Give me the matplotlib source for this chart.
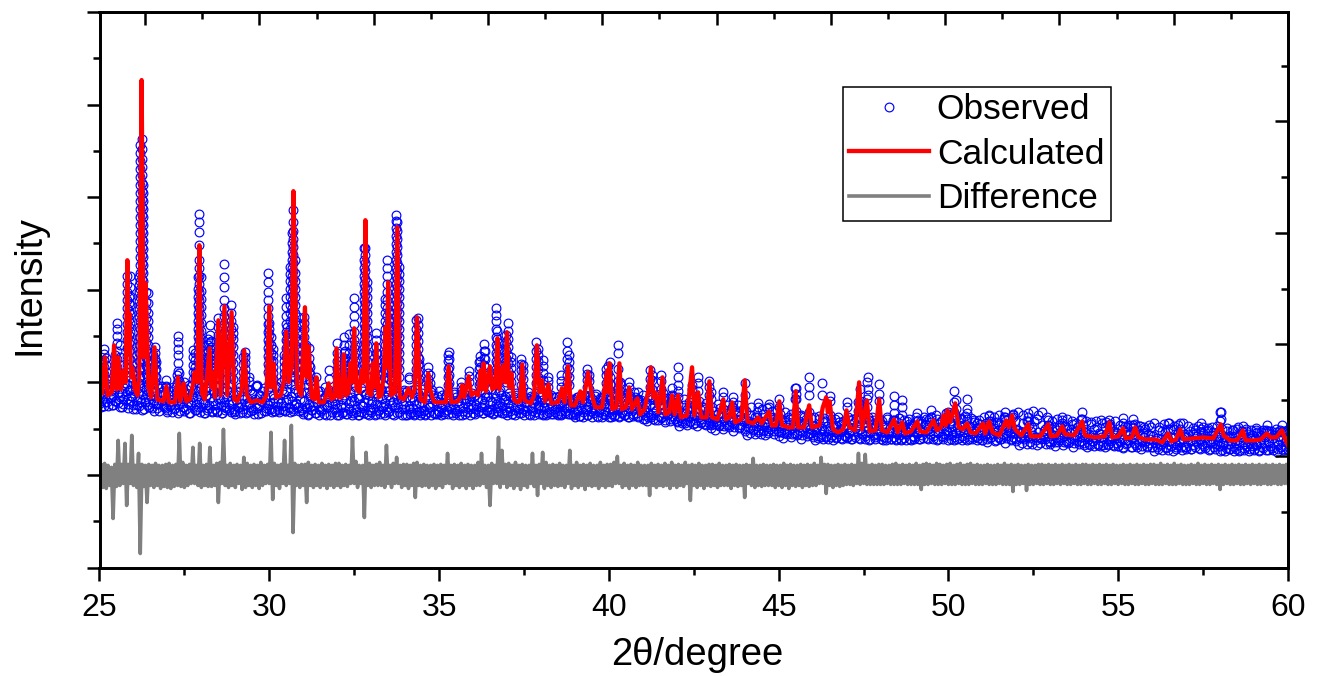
"""Rietveld refinement plot: observed, calculated and difference patterns."""

import matplotlib
matplotlib.use('Agg')
import matplotlib.pyplot as plt
import numpy as np
from matplotlib.ticker import MultipleLocator, NullFormatter

plt.rcParams['font.family'] = ['Liberation Sans', 'DejaVu Sans']

# values; intensity is in arbitrary units
calc_x = [
    25.00, 25.08, 25.16, 25.24, 25.36, 25.43, 25.50, 25.56, 25.63, 25.72,
    25.77, 25.82, 25.85, 25.88, 25.93, 25.98, 26.04, 26.12, 26.17, 26.24,
    26.30, 26.36, 26.44, 26.52, 26.62, 26.70, 26.88, 26.97, 27.05, 27.22,
    27.31, 27.38, 27.48, 27.56, 27.66, 27.74, 27.80, 27.88, 27.94, 28.01,
    28.10, 28.24, 28.29, 28.33, 28.40, 28.50, 28.57, 28.68, 28.76, 28.89,
    28.97, 29.06, 29.18, 29.26, 29.34, 29.46, 29.63, 29.80, 29.92, 30.00,
    30.06, 30.12, 30.20, 30.34, 30.42, 30.50, 30.57, 30.66, 30.71, 30.75,
    30.82, 30.94, 31.05, 31.10, 31.16, 31.24, 31.33, 31.39, 31.46, 31.60,
    31.68, 31.75, 31.82, 31.92, 31.98, 32.05, 32.12, 32.19, 32.26, 32.34,
    32.39, 32.44, 32.50, 32.57, 32.66, 32.71, 32.77, 32.83, 32.90, 33.00,
    33.05, 33.10, 33.15, 33.22, 33.30, 33.38, 33.42, 33.46, 33.50, 33.58,
    33.70, 33.77, 33.84, 33.96, 34.10, 34.20, 34.28, 34.35, 34.45, 34.58,
    34.68, 34.74, 34.84, 34.92, 35.20, 35.28, 35.36, 35.55, 35.64, 35.68,
    35.74, 35.87, 35.95, 36.05, 36.15, 36.22, 36.26, 36.31, 36.38, 36.50,
    36.57, 36.66, 36.72, 36.78, 36.90, 36.95, 37.00, 37.06, 37.13, 37.20,
    37.30, 37.38, 37.45, 37.52, 37.70, 37.80, 37.88, 37.96, 38.03, 38.12,
    38.22, 38.30, 38.50, 38.62, 38.70, 38.80, 38.88, 39.00, 39.16, 39.24,
    39.39, 39.50, 39.60, 39.80, 39.95, 39.98, 40.02, 40.10, 40.22, 40.31,
    40.38, 40.50, 40.60, 40.68, 40.84, 40.92, 41.05, 41.17, 41.24, 41.30,
    41.37, 41.46, 41.58, 41.66, 41.78, 41.86, 41.94, 42.04, 42.12, 42.30,
    42.45, 42.52, 42.63, 42.72, 42.88, 42.96, 43.04, 43.20, 43.37, 43.44,
    43.55, 43.63, 43.72, 43.90, 44.00, 44.08, 44.25, 44.40, 44.50, 44.72,
    44.80, 44.92, 45.02, 45.10, 45.30, 45.42, 45.50, 45.58, 45.75, 45.90,
    45.98, 46.20, 46.30, 46.40, 46.45, 46.50, 46.60, 46.75, 46.90, 47.00,
    47.08, 47.25, 47.37, 47.45, 47.60, 47.68, 47.85, 47.96, 48.04, 48.20,
    48.40, 48.50, 48.64, 48.72, 48.90, 49.08, 49.16, 49.35, 49.56, 49.66,
    49.78, 49.85, 49.92, 49.97, 50.05, 50.20, 50.30, 50.42, 50.55, 50.65,
    50.80, 51.02, 51.08, 51.20, 51.30, 51.50, 51.70, 51.78, 51.87, 51.96,
    52.15, 52.35, 52.43, 52.70, 52.94, 53.02, 53.20, 53.35, 53.44, 53.70,
    53.94, 54.02, 54.30, 54.60, 54.74, 54.82, 55.00, 55.14, 55.22, 55.40,
    55.50, 55.60, 55.80, 56.10, 56.30, 56.47, 56.56, 56.70, 56.83, 56.92,
    57.20, 57.50, 57.80, 58.02, 58.10, 58.30, 58.50, 58.67, 58.75, 59.00,
    59.20, 59.38, 59.48, 59.65, 59.82, 59.92, 60.00,
]
calc_y = [
    176, 174, 210, 172, 175, 222, 178, 210, 178, 197,
    185, 307, 230, 254, 190, 199, 178, 172, 190, 487,
    210, 284, 180, 170, 220, 168, 166, 181, 165, 165,
    190, 166, 184, 166, 168, 180, 195, 185, 322, 175,
    168, 219, 180, 195, 170, 247, 172, 261, 172, 255,
    168, 166, 176, 217, 172, 165, 167, 165, 172, 261,
    180, 204, 170, 172, 185, 236, 185, 200, 376, 310,
    180, 172, 260, 190, 221, 170, 168, 190, 165, 165,
    172, 184, 168, 170, 219, 170, 170, 213, 172, 175,
    204, 185, 239, 178, 175, 197, 185, 347, 175, 172,
    204, 180, 224, 170, 172, 195, 240, 200, 285, 172,
    175, 340, 170, 168, 179, 170, 178, 250, 168, 165,
    194, 178, 166, 165, 165, 201, 165, 166, 172, 182,
    170, 191, 172, 175, 172, 197, 178, 204, 176, 201,
    178, 180, 229, 178, 202, 185, 235, 180, 194, 168,
    165, 166, 203, 167, 164, 172, 222, 175, 187, 166,
    183, 164, 165, 179, 165, 201, 162, 162, 176, 165,
    195, 172, 160, 160, 197, 175, 204, 158, 160, 204,
    158, 160, 180, 158, 169, 153, 158, 178, 200, 170,
    175, 155, 190, 153, 155, 172, 153, 172, 150, 152,
    200, 152, 175, 150, 150, 186, 150, 148, 168, 148,
    150, 165, 145, 148, 187, 146, 144, 150, 144, 156,
    142, 142, 166, 142, 140, 140, 176, 140, 140, 162,
    140, 142, 160, 170, 155, 166, 138, 135, 138, 157,
    140, 137, 185, 138, 167, 136, 137, 168, 137, 135,
    148, 135, 145, 134, 136, 146, 136, 135, 147, 137,
    140, 152, 142, 157, 145, 164, 140, 138, 144, 135,
    134, 144, 134, 146, 135, 132, 147, 140, 152, 138,
    132, 143, 131, 131, 143, 131, 132, 141, 133, 132,
    146, 132, 130, 131, 145, 130, 131, 139, 129, 130,
    140, 130, 128, 128, 125, 134, 126, 128, 138, 128,
    129, 130, 129, 143, 132, 127, 127, 137, 127, 127,
    128, 134, 130, 130, 137, 128, 122,
]

# observed scan, 20 readings per degree from 25 to 60
obs_start = 25.0
obs_step = 0.05
obs_y = [
    172, 160, 180, 165, 176, 161, 183, 170, 162, 178, 166, 181, 160, 174, 163, 184, 168, 159, 177, 171,
    158, 176, 162, 184, 168, 157, 180, 165, 173, 160, 185, 159, 171, 163, 182, 156, 175, 166, 160, 181,
    155, 172, 162, 180, 158, 175, 154, 169, 182, 160, 156, 178, 165, 154, 181, 170, 157, 163, 176, 155,
    180, 164, 154, 172, 159, 184, 156, 176, 162, 155, 181, 168, 154, 179, 160, 170, 157, 183, 163, 155,
    153, 176, 160, 180, 155, 168, 154, 178, 163, 156, 174, 153, 181, 159, 171, 154, 165, 179, 156, 162,
    184, 158, 172, 156, 180, 165, 157, 185, 161, 156, 176, 168, 159, 183, 156, 174, 163, 160, 181, 157,
    153, 175, 160, 152, 172, 157, 178, 154, 165, 152, 176, 158, 153, 170, 162, 177, 152, 164, 174, 155,
    152, 178, 160, 154, 172, 153, 180, 158, 166, 152, 176, 155, 169, 152, 179, 161, 154, 173, 157, 152,
    163, 180, 152, 174, 156, 153, 178, 160, 152, 170, 155, 177, 153, 165, 180, 154, 160, 172, 152, 175,
    152, 176, 158, 153, 170, 152, 178, 155, 164, 152, 174, 156, 153, 172, 160, 152, 177, 154, 166, 153,
    176, 152, 162, 155, 172, 153, 170, 158, 152, 175, 154, 166, 152, 173, 156, 153, 168, 160, 152, 171,
    154, 172, 158, 155, 176, 160, 154, 170, 156, 178, 155, 165, 154, 174, 159, 155, 177, 161, 154, 168,
    152, 174, 156, 153, 170, 152, 172, 158, 154, 175, 152, 164, 169, 153, 171, 156, 152, 168, 160, 153,
    170, 153, 160, 152, 168, 155, 172, 153, 158, 170, 152, 163, 153, 169, 156, 172, 153, 160, 167, 152,
    150, 170, 156, 151, 165, 150, 172, 158, 152, 168, 150, 160, 171, 151, 155, 169, 150, 163, 152, 170,
    150, 168, 153, 151, 174, 158, 150, 170, 155, 152, 172, 150, 163, 168, 151, 175, 154, 150, 166, 158,
    172, 148, 160, 150, 170, 152, 148, 167, 157, 147, 173, 150, 162, 147, 169, 153, 146, 165, 171, 148,
    145, 163, 150, 146, 168, 144, 158, 165, 146, 151, 162, 144, 155, 166, 145, 160, 143, 164, 150, 144,
    142, 160, 148, 143, 163, 142, 154, 158, 141, 150, 162, 142, 146, 160, 140, 155, 162, 140, 148, 158,
    138, 156, 144, 139, 160, 137, 150, 155, 137, 146, 158, 136, 143, 159, 136, 150, 156, 136, 145, 157,
    135, 153, 142, 134, 155, 135, 148, 153, 133, 141, 156, 133, 146, 152, 132, 150, 140, 133, 155, 134,
    132, 150, 138, 131, 151, 130, 145, 149, 131, 136, 152, 130, 142, 148, 130, 150, 135, 129, 146, 131,
    129, 150, 136, 128, 148, 130, 142, 149, 128, 134, 150, 128, 140, 147, 128, 150, 132, 128, 145, 137,
    128, 146, 130, 127, 148, 135, 128, 143, 147, 127, 133, 149, 128, 141, 147, 127, 135, 148, 127, 142,
    128, 150, 134, 128, 146, 129, 143, 148, 128, 136, 150, 128, 140, 148, 128, 145, 131, 128, 149, 136,
    127, 146, 132, 127, 150, 128, 142, 148, 127, 135, 151, 127, 140, 149, 128, 145, 130, 127, 147, 135,
    127, 150, 133, 128, 152, 130, 143, 150, 127, 137, 152, 128, 142, 150, 129, 148, 134, 128, 153, 138,
    128, 155, 134, 129, 152, 130, 146, 154, 129, 140, 156, 130, 148, 152, 129, 155, 136, 128, 150, 141,
    125, 146, 132, 125, 148, 127, 140, 147, 125, 134, 148, 125, 138, 146, 124, 144, 130, 125, 148, 136,
    122, 146, 130, 123, 145, 126, 138, 146, 122, 133, 147, 122, 140, 145, 123, 143, 128, 122, 146, 134,
    121, 142, 128, 120, 141, 124, 136, 142, 120, 130, 143, 120, 137, 141, 121, 140, 126, 120, 142, 132,
    120, 144, 127, 120, 140, 123, 136, 143, 120, 130, 144, 121, 138, 141, 120, 142, 125, 120, 144, 133,
    118, 141, 126, 118, 139, 120, 134, 141, 118, 128, 140, 119, 136, 139, 118, 140, 124, 118, 141, 130,
    116, 138, 122, 116, 136, 118, 131, 137, 116, 126, 138, 116, 133, 136, 117, 138, 121, 116, 137, 127,
    117, 137, 122, 117, 135, 119, 130, 137, 117, 125, 136, 117, 132, 135, 118, 137, 120, 117, 136, 127,
    117, 140, 124, 117, 138, 120, 132, 139, 117, 126, 138, 118, 134, 137, 117, 140, 122, 117, 139, 128,
    115, 138, 122, 115, 136, 118, 130, 138, 115, 125, 137, 115, 132, 136, 116, 138, 120, 115, 137, 126,
]

# a second pass over the same range, 30 readings per degree, filling the band
fill_start = 25.0
fill_step = 1 / 30
fill_y = [
    163, 174, 167, 182, 161, 171, 178, 165, 186, 169, 176, 162, 172, 184, 166, 180, 164, 175, 170, 188, 160, 168, 179, 173, 183, 163, 177, 166, 171, 185,
    162, 180, 158, 167, 174, 161, 182, 165, 172, 158, 168, 178, 162, 176, 160, 171, 184, 164, 156, 175, 169, 159, 163, 179, 172, 181, 161, 167, 173, 159,
    157, 168, 161, 176, 155, 165, 172, 159, 180, 163, 170, 156, 166, 178, 160, 174, 158, 169, 164, 182, 154, 162, 173, 167, 177, 157, 171, 160, 165, 179,
    160, 174, 154, 164, 171, 157, 180, 162, 169, 155, 166, 176, 158, 172, 156, 168, 182, 161, 154, 170, 165, 157, 159, 177, 163, 175, 155, 167, 173, 158,
    156, 167, 160, 175, 154, 164, 171, 158, 179, 162, 169, 155, 165, 177, 159, 173, 157, 168, 163, 181, 153, 161, 172, 166, 176, 156, 170, 159, 164, 178,
    158, 172, 155, 165, 169, 156, 181, 161, 168, 155, 164, 177, 157, 173, 156, 167, 183, 160, 155, 171, 166, 158, 162, 178, 164, 175, 156, 168, 174, 159,
    155, 166, 159, 174, 153, 163, 170, 157, 178, 161, 168, 154, 164, 176, 158, 172, 156, 167, 162, 180, 152, 160, 171, 165, 175, 155, 169, 158, 163, 177,
    159, 171, 152, 162, 168, 155, 178, 160, 167, 153, 164, 175, 156, 170, 154, 166, 180, 158, 152, 169, 163, 155, 161, 176, 165, 173, 153, 167, 172, 157,
    155, 166, 159, 174, 153, 163, 170, 157, 178, 161, 168, 154, 164, 176, 158, 172, 156, 167, 162, 180, 152, 160, 171, 165, 175, 155, 169, 158, 163, 177,
    158, 170, 152, 161, 167, 155, 177, 159, 166, 153, 163, 174, 156, 169, 154, 165, 178, 157, 152, 168, 162, 155, 160, 175, 164, 172, 153, 166, 171, 156,
    155, 165, 159, 172, 153, 162, 169, 157, 175, 160, 167, 154, 163, 173, 158, 170, 156, 166, 161, 176, 152, 159, 169, 164, 172, 155, 168, 158, 162, 174,
    159, 171, 153, 162, 168, 156, 177, 160, 167, 154, 164, 174, 157, 170, 155, 166, 178, 158, 153, 169, 163, 156, 161, 175, 165, 172, 154, 167, 171, 157,
    155, 164, 159, 171, 153, 162, 168, 157, 174, 160, 166, 154, 163, 172, 158, 169, 156, 165, 161, 175, 152, 159, 168, 164, 171, 155, 167, 158, 162, 173,
    157, 167, 152, 160, 165, 154, 172, 158, 164, 153, 161, 170, 155, 166, 153, 163, 171, 156, 152, 165, 160, 154, 159, 169, 162, 167, 153, 164, 168, 155,
    153, 163, 157, 170, 151, 160, 167, 155, 172, 158, 165, 152, 161, 171, 156, 168, 154, 164, 159, 173, 150, 157, 167, 162, 170, 153, 166, 156, 160, 172,
    155, 167, 150, 159, 164, 152, 172, 157, 163, 151, 160, 170, 154, 166, 152, 162, 174, 156, 150, 165, 160, 153, 158, 170, 161, 168, 151, 163, 167, 155,
    148, 158, 152, 165, 146, 155, 162, 150, 168, 154, 160, 147, 156, 166, 151, 163, 149, 159, 154, 169, 145, 152, 162, 157, 165, 148, 161, 151, 155, 167,
    146, 157, 141, 149, 155, 144, 162, 148, 154, 142, 151, 160, 145, 156, 143, 152, 163, 147, 141, 155, 150, 144, 148, 160, 152, 158, 142, 153, 157, 146,
    139, 149, 143, 156, 137, 146, 153, 141, 159, 145, 151, 138, 147, 157, 142, 154, 140, 150, 145, 160, 136, 143, 152, 148, 156, 139, 151, 142, 146, 158,
    136, 147, 132, 140, 146, 134, 152, 138, 144, 133, 141, 150, 135, 146, 133, 142, 153, 137, 132, 145, 140, 134, 138, 150, 143, 148, 133, 144, 147, 136,
    131, 141, 135, 148, 129, 138, 145, 133, 150, 137, 143, 130, 139, 149, 134, 146, 132, 142, 137, 151, 128, 135, 144, 140, 148, 131, 143, 134, 138, 149,
    130, 141, 127, 135, 140, 129, 148, 133, 139, 128, 136, 146, 130, 141, 128, 137, 148, 132, 127, 140, 135, 129, 133, 145, 138, 143, 128, 139, 142, 131,
    130, 140, 134, 147, 128, 137, 144, 132, 149, 136, 142, 129, 138, 148, 133, 145, 131, 141, 136, 150, 127, 134, 143, 139, 147, 130, 142, 133, 137, 148,
    131, 142, 127, 135, 140, 129, 150, 133, 139, 128, 136, 147, 130, 141, 128, 137, 149, 132, 127, 140, 135, 129, 133, 146, 138, 143, 128, 139, 142, 131,
    130, 140, 134, 147, 128, 137, 144, 132, 150, 136, 142, 129, 138, 148, 133, 145, 131, 141, 136, 152, 127, 134, 143, 139, 147, 130, 142, 133, 137, 149,
    132, 143, 128, 136, 141, 130, 152, 134, 140, 129, 137, 149, 131, 142, 129, 138, 154, 133, 128, 141, 136, 130, 134, 147, 139, 144, 129, 140, 143, 132,
    127, 137, 131, 144, 125, 134, 141, 129, 146, 133, 139, 126, 135, 145, 130, 142, 128, 138, 133, 148, 124, 131, 140, 136, 144, 127, 139, 130, 134, 146,
    126, 137, 122, 130, 135, 124, 144, 128, 134, 123, 131, 142, 125, 136, 123, 132, 146, 127, 122, 135, 130, 124, 128, 142, 133, 138, 123, 134, 137, 126,
    123, 133, 127, 140, 121, 130, 137, 125, 142, 129, 135, 122, 131, 141, 126, 138, 124, 134, 129, 143, 120, 127, 136, 132, 140, 123, 135, 126, 130, 142,
    124, 135, 120, 128, 133, 122, 143, 126, 132, 121, 129, 140, 123, 134, 121, 130, 144, 125, 120, 133, 128, 122, 126, 140, 131, 136, 121, 132, 135, 124,
    121, 131, 125, 138, 119, 128, 135, 123, 140, 127, 133, 120, 129, 139, 124, 136, 122, 132, 127, 141, 118, 125, 134, 130, 138, 121, 133, 124, 128, 140,
    120, 131, 116, 124, 129, 118, 137, 122, 128, 117, 125, 135, 119, 130, 117, 126, 138, 121, 116, 129, 124, 118, 122, 134, 127, 132, 117, 128, 131, 120,
    120, 130, 124, 136, 118, 127, 133, 122, 137, 126, 131, 119, 128, 135, 123, 134, 121, 129, 125, 137, 117, 124, 132, 128, 135, 120, 130, 123, 126, 136,
    121, 132, 117, 125, 130, 119, 139, 123, 129, 118, 126, 137, 120, 131, 118, 127, 140, 122, 117, 130, 125, 119, 123, 136, 128, 133, 118, 129, 132, 121,
    118, 128, 122, 135, 116, 125, 132, 120, 137, 124, 130, 117, 126, 136, 121, 133, 119, 129, 124, 138, 115, 122, 131, 127, 135, 118, 130, 121, 125, 137,
]

# taller observed peaks stand out of the band as columns of circles
obs_peak_x = [
    25.13, 25.19, 25.45, 25.53, 25.60,
    25.80, 25.86, 25.90, 26.16, 26.20,
    26.25, 26.28, 26.36, 26.42, 26.58,
    26.62, 26.66, 26.97, 27.28, 27.31,
    27.34, 27.48, 27.75, 27.80, 27.90,
    27.94, 27.98, 28.12, 28.20, 28.24,
    28.29, 28.48, 28.53, 28.68, 28.72,
    28.86, 28.92, 29.22, 29.28, 29.40,
    29.63, 29.96, 30.00, 30.04, 30.12,
    30.42, 30.48, 30.53, 30.62, 30.67,
    30.71, 30.75, 30.84, 31.02, 31.07,
    31.16, 31.20, 31.39, 31.75, 31.98,
    32.02, 32.19, 32.22, 32.36, 32.40,
    32.50, 32.53, 32.80, 32.83, 32.87,
    33.15, 33.18, 33.42, 33.47, 33.52,
    33.58, 33.74, 33.77, 33.81, 34.10,
    34.32, 34.37, 34.42, 34.68, 34.72,
    35.25, 35.30, 35.66, 35.87, 36.17,
    36.22, 36.31, 36.36, 36.68, 36.72,
    36.76, 36.98, 37.02, 37.13, 37.42,
    37.47, 37.86, 37.91, 38.06, 38.22,
    38.60, 38.78, 38.83, 39.36, 39.42,
    39.92, 39.97, 40.04, 40.28, 40.33,
    40.60, 40.85, 41.21, 41.26, 41.55,
    41.60, 41.86, 42.04, 42.45, 42.63,
    42.96, 43.00, 43.37, 43.66, 44.00,
    44.38, 44.72, 45.02, 45.47, 45.52,
    45.90, 46.27, 46.50, 47.00, 47.33,
    47.37, 47.41, 47.60, 47.64, 47.96,
    48.40, 48.64, 49.08, 49.50, 49.94,
    50.00, 50.17, 50.22, 50.55, 51.20,
    51.66, 51.90, 52.35, 52.94, 53.35,
    53.94, 54.74, 55.14, 55.45, 56.47,
    56.83, 57.45, 58.00, 58.04, 58.67,
    59.05, 59.38, 59.82,
]
obs_peak_y = [
    [186, 193, 200, 207, 213, 218], [188, 195, 202, 209], [188, 195, 203, 212], [192, 200, 208, 216, 224, 231, 238, 244], [186, 194, 202, 210, 222],
    [195, 203, 211, 219, 227, 235, 243, 251, 259, 267, 275, 283, 291], [200, 208, 216, 224, 232, 240, 248, 256, 264, 270],
    [190, 199, 208, 217, 226, 235, 244, 253, 262, 271, 280, 291], [190, 198, 206, 214, 222, 230, 240, 250, 258, 266, 275, 282, 290],
    [190, 198, 206, 214, 222, 230, 238, 246, 254, 262, 270, 278, 286, 294, 302, 310, 318, 326, 334, 342, 350, 358, 366, 374, 382, 390, 398, 406, 414, 422],
    [200, 208, 216, 224, 232, 240, 248, 256, 264, 272, 280, 288, 296, 304, 312, 320, 328, 336, 344, 352, 360, 368, 376, 384, 392, 400, 408, 418, 428],
    [190, 198, 206, 214, 222, 230, 238, 246, 254, 262, 270, 278, 286, 294, 302, 310, 318, 326, 334, 342, 350, 358, 366, 374, 382],
    [185, 193, 201, 209, 217, 225, 233, 241, 249, 257, 265, 275], [182, 190, 198, 206, 214, 222, 230, 238, 246, 254, 264, 274], [185, 192, 200, 206, 212],
    [185, 191, 197, 203, 208, 214, 220], [190, 198, 205], [180, 187], [184, 192], [188, 196, 204, 212, 218, 225, 231],
    [186, 194], [185], [188, 195, 202, 210, 217], [188, 194, 200, 207, 214], [190, 198, 206, 214, 222, 230, 238, 246, 254, 262, 270, 278, 290],
    [195, 203, 211, 219, 227, 235, 243, 251, 259, 267, 275, 283, 291, 299, 307, 322, 335, 345, 353], [188, 196, 204, 212, 220, 228, 236, 244, 252, 260, 268, 276, 290], [186, 192, 198, 204, 208], [190, 197, 204, 210, 216, 222, 228], [190, 197, 204, 211, 218, 225, 232, 242],
    [186, 193, 200, 207, 214, 220, 226], [190, 197, 204, 211, 218, 225, 232, 240, 249], [188, 195, 201, 208, 214], [195, 203, 211, 219, 227, 235, 243, 251, 259, 267, 280, 290, 303], [188, 196, 204, 212, 220],
    [190, 198, 206, 214, 222, 230, 238, 246, 254, 262], [188, 196, 204, 212, 220, 228, 234, 240], [188, 195, 203, 210], [186, 192, 198, 204, 210, 215], [186, 190],
    [182], [195, 203, 211, 219, 227, 235, 243, 251, 259, 267, 275, 285, 294], [192, 200, 208, 216, 224, 232, 238, 244], [190, 198, 206, 214, 222, 230], [188, 194, 200, 206, 212, 218],
    [188, 194, 200, 206, 212], [195, 203, 211, 219, 227, 235, 243, 251, 260, 269], [186, 194, 202, 210, 218, 226, 233, 240], [190, 198, 206, 214, 222, 230, 238, 246, 254, 262, 270, 278, 286, 293, 300], [195, 203, 211, 219, 227, 235, 243, 251, 259, 267, 275, 283, 291, 299, 307, 315, 324, 334],
    [200, 208, 216, 224, 232, 240, 248, 256, 264, 272, 280, 288, 296, 304, 312, 320, 328, 336, 345, 357], [190, 198, 206, 214, 222, 230, 238, 246, 254, 262, 270, 278, 286, 294, 307], [186, 194, 202, 210, 218, 226, 234, 242, 250], [190, 198, 206, 214, 222, 230, 238, 244, 250], [188, 196, 204, 212, 222],
    [188, 195, 202, 209, 219], [186, 193, 200], [190], [188, 197], [190, 198, 206, 214, 224],
    [188, 195, 202], [190, 198, 206, 214, 222, 230], [188, 195, 202, 209, 216], [190, 198, 206, 214, 222, 233], [188, 196, 205],
    [195, 203, 211, 219, 227, 235, 243, 251, 260, 269], [190, 198, 206, 214, 222], [195, 203, 211, 219, 227, 235, 243, 251, 259, 267, 275, 283, 291, 299, 307, 319], [200, 208, 216, 224, 232, 240, 248, 256, 264, 272, 280, 288, 296, 304, 312, 319], [190, 198, 206, 214, 222, 230, 238, 246, 254, 262, 270, 278, 285],
    [190, 198, 206, 214, 220, 227, 234], [186, 193, 200, 207, 214], [190, 198, 206, 214, 222, 230, 238, 246, 254, 262, 268], [195, 203, 211, 219, 227, 235, 243, 251, 259, 267, 275, 283, 291, 299, 307], [188, 196, 204, 212, 220, 228, 236, 246, 255],
    [186, 192, 198, 204, 210], [195, 203, 211, 219, 227, 235, 243, 251, 259, 267, 275, 283, 291, 299, 307, 315, 323, 331, 339, 346, 352], [200, 208, 216, 224, 232, 240, 248, 256, 264, 272, 280, 288, 296, 304, 312, 320, 328, 336, 345], [190, 198, 206, 214, 222, 230, 238, 246, 254, 262, 270, 278, 286, 293, 300], [188, 190],
    [190, 198, 206, 214, 222, 230, 238, 247], [186, 194, 202, 210, 218, 226, 234, 242, 249], [188, 196, 203, 208], [182, 188, 194, 200], [184, 192],
    [182, 190, 198, 206, 212], [184, 192, 200, 208, 215], [180, 185], [185, 191, 196], [182, 190, 198, 205],
    [184, 192, 200, 206, 211], [186, 194, 202, 209, 216, 223], [184, 192, 200, 208, 216], [190, 198, 206, 214, 222, 230, 238, 246, 252, 259], [188, 196, 204, 212, 220, 228, 236],
    [186, 194, 202, 210, 218, 224], [185, 193, 201, 209, 217, 225, 232], [188, 196, 204, 212, 220, 228, 236, 244], [185, 192, 199, 205, 210], [182, 190, 197, 203, 208],
    [180, 188, 196, 202], [184, 192, 200, 208, 216, 225], [182, 190, 198, 206, 212, 218], [180, 187, 194, 201, 207], [180, 186, 190],
    [180, 186, 192], [184, 192, 200, 208, 216, 225], [182, 190, 198, 205, 212], [180, 187, 193, 198], [178, 186, 192],
    [176, 184, 192, 198], [178, 186, 194, 201], [176, 183, 190, 205], [178, 186, 198, 214, 222], [176, 183, 185],
    [172, 180, 185], [168, 175], [172, 180, 188, 197], [170, 178, 187, 192], [170, 178, 186, 192],
    [168, 174], [172, 179], [170, 176, 182, 190, 200], [170, 178, 182], [176, 184, 190],
    [172, 180, 186], [168, 175], [170, 175], [165, 170], [172, 184],
    [160, 164], [160, 163], [160, 168], [168, 179], [168, 173, 179],
    [172, 180, 190], [172, 184], [166, 171], [160, 165], [156, 165],
    [150, 156, 163], [150, 158, 166, 178], [160, 168, 185], [172, 178, 190], [166, 173, 183],
    [154, 162, 171], [152, 160, 167], [146, 154], [150, 157], [146, 154],
    [150, 155], [155, 165, 176], [150, 158, 167], [148, 158, 168], [146, 151],
    [150, 155], [150, 152], [146, 150], [142, 147], [144, 150],
    [148, 155], [142, 147], [144, 149], [142, 148], [138, 144],
    [138, 144], [138, 144], [146, 155], [148, 155], [135, 141],
    [134, 139], [136, 142], [136, 142],
]

# difference curve, 20 readings per degree from 25 to 60
diff_start = 25.0
diff_step = 0.05
diff_y = [
    82, 103, 80, 104, 79, 102, 82, 100, 49, 103, 81, 127, 82, 103, 84, 124, 62, 103, 84, 132,
    82, 102, 80, 114, 14, 103, 81, 102, 65, 103, 82, 102, 80, 104, 82, 102, 79, 102, 81, 103,
    80, 104, 79, 102, 81, 103, 82, 134, 81, 105, 80, 102, 82, 103, 84, 120, 84, 102, 82, 124,
    80, 102, 82, 103, 81, 120, 81, 102, 82, 104, 65, 105, 84, 138, 82, 102, 80, 104, 82, 102,
    80, 103, 84, 102, 78, 110, 80, 104, 82, 102, 80, 103, 82, 102, 79, 105, 82, 102, 84, 103,
    84, 135, 68, 104, 82, 102, 79, 103, 84, 127, 82, 102, 84, 142, 35, 104, 82, 102, 80, 103,
    82, 103, 65, 105, 82, 102, 80, 103, 82, 102, 80, 104, 82, 102, 79, 103, 82, 102, 80, 104,
    82, 104, 80, 102, 82, 103, 81, 102, 84, 130, 84, 106, 80, 102, 84, 102, 50, 115, 82, 104,
    80, 102, 82, 103, 82, 105, 82, 102, 80, 122, 84, 102, 80, 104, 84, 110, 84, 102, 80, 103,
    82, 103, 79, 102, 82, 104, 70, 105, 82, 102, 81, 103, 82, 102, 80, 102, 82, 103, 79, 102,
    82, 103, 80, 102, 84, 114, 84, 102, 79, 103, 82, 102, 80, 104, 82, 102, 79, 103, 82, 102,
    79, 102, 82, 105, 82, 114, 84, 102, 80, 102, 62, 104, 84, 102, 84, 130, 80, 117, 84, 103,
    80, 104, 82, 102, 79, 105, 82, 102, 78, 103, 82, 102, 80, 102, 84, 114, 81, 102, 72, 103,
    84, 115, 79, 105, 82, 102, 80, 103, 82, 102, 81, 104, 82, 102, 80, 102, 84, 117, 79, 102,
    82, 105, 80, 102, 82, 103, 78, 102, 82, 104, 81, 102, 82, 102, 79, 105, 82, 102, 80, 103,
    82, 103, 81, 105, 84, 111, 84, 102, 80, 104, 82, 102, 79, 103, 82, 102, 80, 105, 82, 102,
    82, 102, 82, 102, 72, 104, 82, 102, 80, 103, 82, 102, 81, 104, 82, 102, 79, 105, 82, 102,
    80, 103, 82, 102, 81, 105, 84, 102, 67, 103, 82, 102, 80, 104, 82, 102, 79, 102, 82, 103,
    81, 103, 82, 102, 80, 104, 82, 102, 82, 102, 82, 103, 79, 102, 82, 103, 81, 102, 82, 102,
    70, 103, 84, 102, 82, 109, 80, 102, 82, 102, 81, 103, 82, 102, 82, 102, 82, 103, 80, 102,
    82, 102, 80, 104, 82, 102, 79, 103, 82, 102, 81, 102, 82, 103, 80, 102, 82, 103, 81, 102,
    82, 104, 82, 102, 84, 110, 84, 103, 74, 103, 82, 102, 80, 102, 82, 103, 81, 102, 82, 103,
    83, 102, 83, 103, 82, 102, 84, 114, 83, 104, 84, 113, 83, 102, 83, 103, 83, 102, 83, 103,
    83, 103, 83, 102, 84, 102, 83, 103, 83, 104, 83, 102, 83, 103, 84, 102, 83, 103, 83, 102,
    83, 104, 83, 102, 78, 103, 83, 104, 83, 103, 84, 102, 83, 104, 83, 103, 83, 102, 84, 103,
    83, 104, 83, 102, 83, 103, 84, 104, 83, 102, 83, 103, 83, 104, 84, 102, 83, 103, 83, 102,
    83, 102, 84, 103, 83, 102, 83, 102, 83, 103, 84, 102, 83, 104, 83, 102, 83, 103, 76, 102,
    83, 103, 83, 102, 84, 102, 77, 103, 83, 102, 83, 102, 84, 103, 83, 103, 83, 102, 84, 103,
    83, 102, 83, 103, 84, 102, 83, 103, 84, 102, 83, 103, 83, 102, 84, 103, 83, 102, 83, 103,
    84, 103, 83, 102, 83, 103, 84, 102, 83, 103, 83, 102, 84, 103, 83, 102, 83, 103, 84, 102,
    83, 102, 84, 103, 83, 102, 83, 103, 84, 102, 83, 103, 83, 102, 84, 103, 83, 102, 83, 103,
    84, 103, 83, 102, 83, 104, 83, 102, 84, 103, 83, 102, 83, 104, 83, 102, 84, 103, 83, 102,
    83, 102, 83, 103, 84, 102, 83, 104, 83, 102, 84, 103, 83, 102, 83, 103, 84, 102, 83, 103,
    78, 102, 83, 103, 84, 102, 83, 103, 83, 102, 84, 103, 83, 102, 83, 103, 84, 102, 83, 103,
    84, 102, 83, 103, 83, 102, 84, 103, 83, 102, 83, 103, 84, 102, 83, 103, 83, 102, 84, 103, 84,
]

legend_labels = ['Observed', 'Calculated', 'Difference']

# tick spacing of the frame
x_limits = (25, 60)
x_major = 5
y_top = 555
y_major = 92.5
top_limits = (-0.4, 10)
right_top = 4.98

fig = plt.figure(figsize=(13.22, 6.76), dpi=100)
ax = fig.add_axes([99.5 / 1322, 1 - 567.5 / 676, (1288 - 99.5) / 1322, 555.5 / 676])

obs_x = obs_start + obs_step * np.arange(len(obs_y))
fill_x = fill_start + fill_step * np.arange(len(fill_y))
stack_x = np.concatenate([[x] * len(ys) for x, ys in zip(obs_peak_x, obs_peak_y)])
stack_y = np.concatenate(obs_peak_y)
diff_x = diff_start + diff_step * np.arange(len(diff_y))

marker = dict(ls='none', marker='o', ms=6.3, mfc='none', mec='#0000ff', mew=0.85)
ax.plot(np.concatenate([obs_x, fill_x, stack_x]), np.concatenate([obs_y, fill_y, stack_y]),
        **marker, label=legend_labels[0], zorder=2)
ax.plot(diff_x, diff_y, color='#808080', lw=2.6, solid_joinstyle='round', label=legend_labels[2], zorder=2.5)
ax.plot(calc_x, calc_y, color='#ff0000', lw=3.1, solid_joinstyle='round', label=legend_labels[1], zorder=3)

ax.set_xlim(*x_limits)
ax.set_ylim(0, y_top)
ax.xaxis.set_major_locator(MultipleLocator(x_major))
ax.xaxis.set_minor_locator(MultipleLocator(x_major / 2))
ax.yaxis.set_major_locator(MultipleLocator(y_major))
ax.yaxis.set_minor_locator(MultipleLocator(y_major / 2))
ax.yaxis.set_major_formatter(NullFormatter())
ax.tick_params(which='major', length=9.4, width=1.8, direction='out', labelsize=23, pad=9)
ax.tick_params(which='minor', length=4.7, width=1.8, direction='out')
ax.set_xlabel('2θ/degree', fontsize=27.5, labelpad=10, x=0.503)
ax.set_ylabel('Intensity', fontsize=27, labelpad=19, y=0.509)
for side in ax.spines.values():
    side.set_linewidth(1.8)

# top and right edges carry their own inward ticks on a different spacing
top = ax.twiny()
top.set_xlim(*top_limits)
top.xaxis.set_major_locator(MultipleLocator(1))
top.xaxis.set_minor_locator(MultipleLocator(0.5))
top.xaxis.set_major_formatter(NullFormatter())
top.tick_params(which='major', length=9.4, width=1.8, direction='in')
top.tick_params(which='minor', length=4.7, width=1.8, direction='in')

right = ax.twinx()
right.set_ylim(0, right_top)
right.yaxis.set_major_locator(MultipleLocator(1))
right.yaxis.set_minor_locator(MultipleLocator(0.5))
right.yaxis.set_major_formatter(NullFormatter())
right.tick_params(which='major', length=9.4, width=1.8, direction='in')
right.tick_params(which='minor', length=4.7, width=1.8, direction='in')
for side in list(top.spines.values()) + list(right.spines.values()):
    side.set_linewidth(1.8)

handles, labels = ax.get_legend_handles_labels()
order = [labels.index(name) for name in legend_labels]
leg = right.legend([handles[i] for i in order], legend_labels, loc='upper left',
                   bbox_to_anchor=((843 - 99.5) / 1188.5, (567.5 - 87) / 555.5),
                   borderaxespad=0, frameon=True, fancybox=False, framealpha=1, edgecolor='black',
                   fontsize=25.5, borderpad=0.18, handlelength=2.25, handletextpad=0.22, labelspacing=0.32)
leg.get_frame().set_linewidth(1.1)

fig.savefig('out.png', dpi=100)
plt.close(fig)
